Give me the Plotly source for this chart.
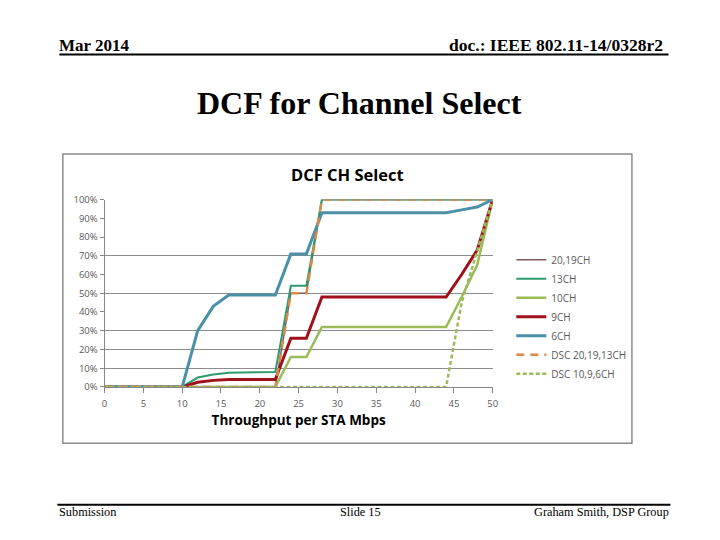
import plotly.graph_objects as go

# throughput per STA (Mbps) and cumulative share per scheme (%)
throughput = [0, 10, 12, 14, 16, 22, 24, 26, 28, 44, 46, 48, 50]
ch_20_19 = [0, 0, 0, 0, 0, 0, 50, 50, 100, 100, 100, 100, 100]
ch_13 = [0, 0, 5, 6.6, 7.5, 8, 54, 54, 100, 100, 100, 100, 100]
ch_10 = [0, 0, 0, 0, 0, 0, 16, 16, 32, 32, 48, 65, 100]
ch_9 = [0, 0, 2.5, 3.5, 4, 4, 26, 26, 48, 48, 60, 73, 100]
ch_6 = [0, 0, 30, 43, 49, 49, 71, 71, 93, 93, 94.5, 96, 100]
dsc_20_19_13 = [0, 0, 0, 0, 0, 0, 50, 50, 100, 100, 100, 100, 100]
dsc_10_9_6 = [0, 0, 0, 0, 0, 0, 0, 0, 0, 0, 45, 73, 100]

x_ticks = [0, 5, 10, 15, 20, 25, 30, 35, 40, 45, 50]
y_ticks = [0, 10, 20, 30, 40, 50, 60, 70, 80, 90, 100]
y_labels = ["0%", "10%", "20%", "30%", "40%", "50%", "60%", "70%", "80%", "90%", "100%"]
grid_levels = [10, 20, 30, 50, 70, 100]

W, H = 720, 540
def px(v): return v / W
def py(v): return 1 - v / H

series = [
    ("20,19CH", ch_20_19, "#7f5a5e", 1.5, "solid"),
    ("13CH", ch_13, "#2e9a6b", 2, "solid"),
    ("10CH", ch_10, "#9bbb59", 2.5, "solid"),
    ("9CH", ch_9, "#a0101a", 3, "solid"),
    ("6CH", ch_6, "#4a90a8", 3, "solid"),
    ("DSC 20,19,13CH", dsc_20_19_13, "#d98a4a", 2.5, "8px,6px"),
    ("DSC 10,9,6CH", dsc_10_9_6, "#9bbb59", 2.5, "4px,2.5px"),
]

fig = go.Figure()
for name, vals, color, width, dash in series:
    fig.add_trace(go.Scatter(x=throughput, y=vals, name=name, mode="lines",
                             line=dict(color=color, width=width, dash=dash)))

sans = "Open Sans, Liberation Sans, sans-serif"
tick_font = dict(family=sans, size=9.5, color="#595959")
legend_font = dict(family=sans, size=10, color="#595959")

fig.update_layout(
    autosize=True,
    margin=dict(l=0, r=0, t=0, b=0),
    paper_bgcolor="white", plot_bgcolor="white",
    showlegend=True,
    legend=dict(x=px(514), y=py(244), xanchor="left", yanchor="top",
                font=legend_font, bgcolor="rgba(0,0,0,0)", tracegroupgap=0),
    xaxis=dict(domain=[px(102.7), px(495.2)], range=[0, 50], tickvals=x_ticks,
               showgrid=False, zeroline=False, showline=True, linecolor="#888888",
               ticks="outside", ticklen=5, tickcolor="#888888", tickfont=tick_font,
               ticklabelstandoff=3,
               title=dict(text="<b>Throughput per STA Mbps</b>", standoff=6,
                          font=dict(family=sans, size=13.5, color="black"))),
    yaxis=dict(domain=[py(389.3), py(197.3)], range=[0, 100], tickvals=y_ticks,
               ticktext=y_labels, showgrid=False, zeroline=False, showline=True,
               linecolor="#888888", ticks="outside", ticklen=4, tickcolor="#888888",
               tickfont=tick_font),
    yaxis2=dict(domain=[py(389.3), py(197.3)], range=[0, 100], overlaying="y",
                anchor="x", tickvals=grid_levels, showticklabels=False,
                showgrid=True, gridcolor="#8c8c8c", gridwidth=1, zeroline=False),
)
# empty trace on the grid axis so its gridlines are drawn
fig.add_trace(go.Scatter(x=[None], y=[None], yaxis="y2", showlegend=False, hoverinfo="skip"))

serif = "Liberation Serif, Times New Roman, serif"
fig.add_annotation(x=px(55), y=py(39), xref="paper", yref="paper", xanchor="left",
                   yanchor="middle", showarrow=False, text="<b>Mar 2014</b>",
                   font=dict(family=serif, size=17, color="black"))
fig.add_annotation(x=px(669), y=py(39), xref="paper", yref="paper", xanchor="right",
                   yanchor="middle", showarrow=False, text="<b>doc.: IEEE 802.11-14/0328r2</b>",
                   font=dict(family=serif, size=17.5, color="black"))
fig.add_annotation(x=0.5, y=py(98), xref="paper", yref="paper", xanchor="center",
                   yanchor="middle", showarrow=False, text="<b>DCF for Channel Select</b>",
                   font=dict(family=serif, size=32, color="black"))
fig.add_annotation(x=px(348), y=py(172), xref="paper", yref="paper", xanchor="center",
                   yanchor="middle", showarrow=False, text="<b>DCF CH Select</b>",
                   font=dict(family=sans, size=16.5, color="black"))
fig.add_annotation(x=px(55), y=py(517), xref="paper", yref="paper", xanchor="left",
                   yanchor="middle", showarrow=False, text="Submission",
                   font=dict(family=serif, size=12.3, color="black"))
fig.add_annotation(x=px(362), y=py(517), xref="paper", yref="paper", xanchor="center",
                   yanchor="middle", showarrow=False, text="Slide 15",
                   font=dict(family=serif, size=12.3, color="black"))
fig.add_annotation(x=px(675), y=py(517), xref="paper", yref="paper", xanchor="right",
                   yanchor="middle", showarrow=False, text="Graham Smith, DSP Group",
                   font=dict(family=serif, size=12.3, color="black"))

fig.add_shape(type="line", xref="paper", yref="paper", x0=px(57), x1=px(673),
              y0=py(48.7), y1=py(48.7), line=dict(color="black", width=2))
fig.add_shape(type="line", xref="paper", yref="paper", x0=px(55), x1=px(675),
              y0=py(510), y1=py(510), line=dict(color="black", width=2))
fig.add_shape(type="rect", xref="paper", yref="paper", x0=px(60.5), x1=px(636),
              y0=py(150.5), y1=py(447), line=dict(color="#8c8c8c", width=1.5))

# fill the browser window exactly: no page margin, figure sized to the viewport
fig.write_html("out.html", config={"displayModeBar": False},
               default_width="100vw", default_height="100vh",
               post_script="document.body.style.margin='0';document.body.style.overflow='hidden';"
                           "Plotly.Plots.resize(document.getElementById('{plot_id}'));")
